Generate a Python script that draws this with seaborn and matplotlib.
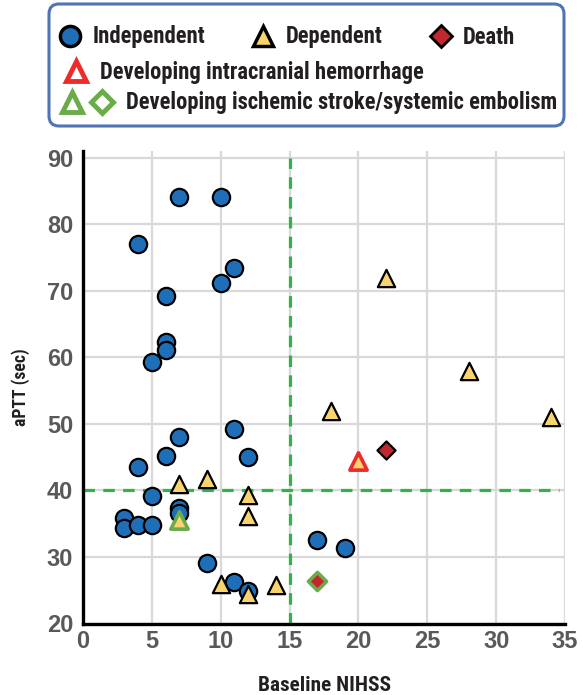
import matplotlib
matplotlib.use("Agg")
import matplotlib.pyplot as plt
import seaborn as sns
import pandas as pd
from matplotlib import font_manager
from matplotlib.font_manager import FontProperties
from matplotlib.textpath import TextPath
from matplotlib.lines import Line2D
from matplotlib.patches import FancyBboxPatch
from matplotlib.legend_handler import HandlerTuple

# Independent outcome (circles)
ind_nihss = [7, 10, 4, 11, 10, 6, 6, 6, 5, 7, 11, 6, 12, 4, 5, 7, 7, 3, 3, 4, 5, 17, 19, 9, 11, 12]
ind_aptt = [84.2, 84.2, 77.1, 73.4, 71.2, 69.3, 62.3, 61.1, 59.3, 48.1, 49.3, 45.2, 45.1, 43.6,
            39.2, 37.4, 36.6, 35.9, 34.4, 34.8, 34.8, 32.5, 31.4, 29.1, 26.2, 24.9]

# Dependent outcome (triangles)
dep_nihss = [7, 9, 12, 12, 10, 12, 14, 22, 28, 18, 34]
dep_aptt = [41.0, 41.7, 39.3, 36.1, 26.0, 24.5, 25.8, 72.0, 57.9, 52.0, 51.0]

# Death (diamonds)
death_nihss = [22]
death_aptt = [46.1]

# Developing intracranial hemorrhage (dependent)
ich_nihss = [20]
ich_aptt = [44.5]

# Developing ischemic stroke/systemic embolism
isch_dep_nihss = [7]
isch_dep_aptt = [35.6]
isch_death_nihss = [17]
isch_death_aptt = [26.4]

# cut-offs
nihss_cut = 15
aptt_cut = 40

legend_labels = ["Independent", "Dependent", "Death",
                 "Developing intracranial hemorrhage",
                 "Developing ischemic stroke/systemic embolism"]

BLUE = "#1f6fb8"
YELLOW = "#f8d46f"
DARKRED = "#c1272d"
RED = "#ee2b2b"
GREEN = "#6aab4a"
DASH = "#33b14b"
TXT = "#231f20"

sns.set_style("white")

# pick a narrow face if one is installed
available = {f.name for f in font_manager.fontManager.ttflist}
narrow = "Liberation Sans"
for name in ["Liberation Sans Narrow", "Roboto Condensed", "Open Sans Condensed"]:
    if name in available:
        narrow = name
        break
families = [narrow, "Liberation Sans", "DejaVu Sans"]
plt.rcParams["font.family"] = families


def fit_size(text, width_px, weight="bold"):
    # font size (pt) that gives the text the wanted width at 100 dpi
    prop = FontProperties(family=families, weight=weight)
    w = TextPath((0, 0), text, size=100, prop=prop).get_extents().width
    return width_px * 72 / 100 * 100 / w


fig = plt.figure(figsize=(5.83, 6.95), dpi=100)
ax = fig.add_axes([83 / 583, 1 - 623.5 / 695, 482 / 583, 472.5 / 695])

# Reference cut-off lines
ax.vlines(nihss_cut, 20, 90, colors=DASH, lw=2.3, linestyles=(0, (3.6, 2.6)), zorder=1.5)
ax.hlines(aptt_cut, 0, 34.6, colors=DASH, lw=2.3, linestyles=(0, (3.6, 2.6)), zorder=1.5)

df_ind = pd.DataFrame({"nihss": ind_nihss, "aptt": ind_aptt})
df_dep = pd.DataFrame({"nihss": dep_nihss, "aptt": dep_aptt})

sns.scatterplot(data=df_ind, x="nihss", y="aptt", marker="o", s=155, color=BLUE,
                edgecolor="black", linewidth=1.6, ax=ax, zorder=3)
sns.scatterplot(data=df_dep, x="nihss", y="aptt", marker="^", s=155, color=YELLOW,
                edgecolor="black", linewidth=1.6, ax=ax, zorder=4)
sns.scatterplot(x=death_nihss, y=death_aptt, marker="D", s=85, color=DARKRED,
                edgecolor="black", linewidth=1.6, ax=ax, zorder=4)
sns.scatterplot(x=ich_nihss, y=ich_aptt, marker="^", s=155, color=YELLOW,
                edgecolor=RED, linewidth=2.6, ax=ax, zorder=5)
sns.scatterplot(x=isch_dep_nihss, y=isch_dep_aptt, marker="^", s=155, color=YELLOW,
                edgecolor=GREEN, linewidth=2.6, ax=ax, zorder=5)
sns.scatterplot(x=isch_death_nihss, y=isch_death_aptt, marker="D", s=85, color=DARKRED,
                edgecolor=GREEN, linewidth=2.6, ax=ax, zorder=5)

ax.set_xlim(0, 35)
ax.set_ylim(20, 91.05)
ax.set_xticks(range(0, 36, 5))
ax.set_yticks(range(20, 91, 10))
ax.grid(True, color="#d9d9d9", lw=1.6, zorder=0)
ax.set_axisbelow(True)

for side in ["top", "right"]:
    ax.spines[side].set_visible(False)
for side in ["left", "bottom"]:
    ax.spines[side].set_color("black")
    ax.spines[side].set_linewidth(2.4)

ax.tick_params(axis="both", length=0, labelsize=17, labelcolor="#58595b")
ax.tick_params(axis="y", pad=7)
ax.tick_params(axis="x", pad=5)
for lab in ax.get_xticklabels() + ax.get_yticklabels():
    lab.set_family(["Liberation Sans", "DejaVu Sans"])
    lab.set_fontweight("bold")

ax.set_xlabel("Baseline NIHSS", fontsize=fit_size("Baseline NIHSS", 131),
              fontweight="bold", color=TXT, labelpad=16)
ax.set_ylabel("aPTT (sec)", fontsize=fit_size("aPTT (sec)", 76),
              fontweight="bold", color=TXT, labelpad=12)

# Legend box
box = FancyBboxPatch((0.49, 5.69), 5.15, 1.22, boxstyle="round,pad=0,rounding_size=0.1",
                     transform=fig.dpi_scale_trans, facecolor="white",
                     edgecolor="#4f74b6", lw=2.2)
fig.patches.append(box)

h_ind = Line2D([], [], ls="", marker="o", ms=14.5, mfc=BLUE, mec="black", mew=2.5)
h_dep = Line2D([], [], ls="", marker="^", ms=15, mfc=YELLOW, mec="black", mew=2.5)
h_death = Line2D([], [], ls="", marker="D", ms=11, mfc=DARKRED, mec="black", mew=2.0)
h_ich = Line2D([], [], ls="", marker="^", ms=15, mfc="white", mec=RED, mew=3.5)
h_isch_t = Line2D([], [], ls="", marker="^", ms=15, mfc="white", mec=GREEN, mew=3.5)
h_isch_d = Line2D([], [], ls="", marker="D", ms=11, mfc="white", mec=GREEN, mew=3.5)

leg_size = min(fit_size(legend_labels[0], 123), fit_size(legend_labels[4], 430))
leg_font = {"family": families, "weight": "bold", "size": leg_size}

fig.legend([h_ind, h_dep, h_death], legend_labels[:3],
           loc="center left", bbox_to_anchor=(58 / 583, 1 - 37 / 695), ncol=3,
           frameon=False, prop=leg_font, handlelength=1.1, handletextpad=0.45,
           columnspacing=2.0, borderpad=0, borderaxespad=0, labelcolor=TXT)
fig.legend([h_ich], legend_labels[3:4],
           loc="center left", bbox_to_anchor=(64 / 583, 1 - 72 / 695),
           frameon=False, prop=leg_font, handlelength=1.1, handletextpad=0.5,
           borderpad=0, borderaxespad=0, labelcolor=TXT)
fig.legend([(h_isch_t, h_isch_d)], legend_labels[4:],
           loc="center left", bbox_to_anchor=(60 / 583, 1 - 103 / 695),
           frameon=False, prop=leg_font, handlelength=2.4, handletextpad=0.5,
           handler_map={tuple: HandlerTuple(ndivide=None, pad=0.2)},
           borderpad=0, borderaxespad=0, labelcolor=TXT)

fig.savefig("out.png", dpi=100)
